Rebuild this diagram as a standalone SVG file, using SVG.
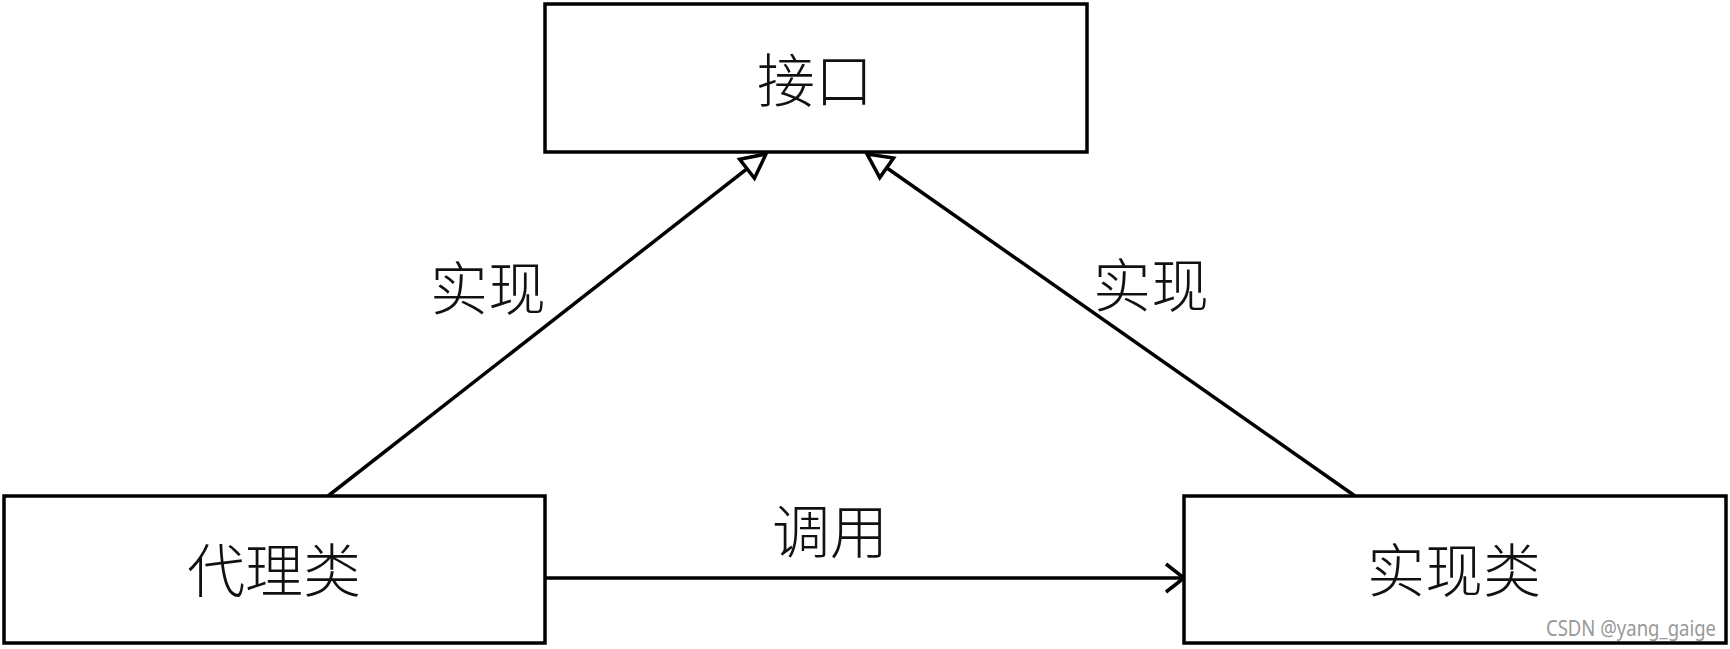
<svg xmlns="http://www.w3.org/2000/svg" width="1730" height="649" viewBox="0 0 1730 649">
<style>
.box{fill:#fff;stroke:#000;stroke-width:3.5}
.lbl{font-family:"Noto Sans CJK SC","Noto Sans CJK JP",sans-serif;font-size:58px;font-weight:300;fill:#111;text-anchor:middle;dominant-baseline:central}
.edge{stroke:#000;stroke-width:3.5;fill:none}
.wm{font-family:"Noto Sans","Liberation Sans",sans-serif;font-size:21px;fill:#999}
</style>
<defs>
<marker id="tri" markerUnits="userSpaceOnUse" viewBox="0 0 30 30" refX="27" refY="15" markerWidth="30" markerHeight="30" orient="auto">
<path d="M3,3 L27,15 L3,27 Z" fill="#fff" stroke="#000" stroke-width="3.5" stroke-linejoin="miter"/>
</marker>
<marker id="open" markerUnits="userSpaceOnUse" viewBox="0 0 24 34" refX="21" refY="17" markerWidth="24" markerHeight="34" orient="auto">
<path d="M3,3 L21,17 L3,31" fill="none" stroke="#000" stroke-width="3.5"/>
</marker>
</defs>
<rect width="1730" height="649" fill="#fff"/>
<g id="connectors">
<line class="edge" x1="328" y1="496" x2="766" y2="154" marker-end="url(#tri)"/>
<line class="edge" x1="1355" y1="496" x2="867" y2="154" marker-end="url(#tri)"/>
<line class="edge" x1="545" y1="578" x2="1184" y2="578" marker-end="url(#open)"/>
<text class="lbl" x="488" y="285">实现</text>
<text class="lbl" x="1151" y="282">实现</text>
<text class="lbl" x="830" y="528">调用</text>
</g>
<g id="interface">
<rect class="box" x="545" y="4" width="542" height="148"/>
<text class="lbl" x="815" y="77">接口</text>
</g>
<g id="proxy">
<rect class="box" x="4" y="496" width="541" height="147"/>
<text class="lbl" x="274" y="567">代理类</text>
</g>
<g id="impl">
<rect class="box" x="1184" y="496" width="542" height="147"/>
<text class="lbl" x="1454" y="567">实现类</text>
</g>
<text class="wm" x="1546" y="636" textLength="170" lengthAdjust="spacingAndGlyphs">CSDN @yang_gaige</text>
</svg>
